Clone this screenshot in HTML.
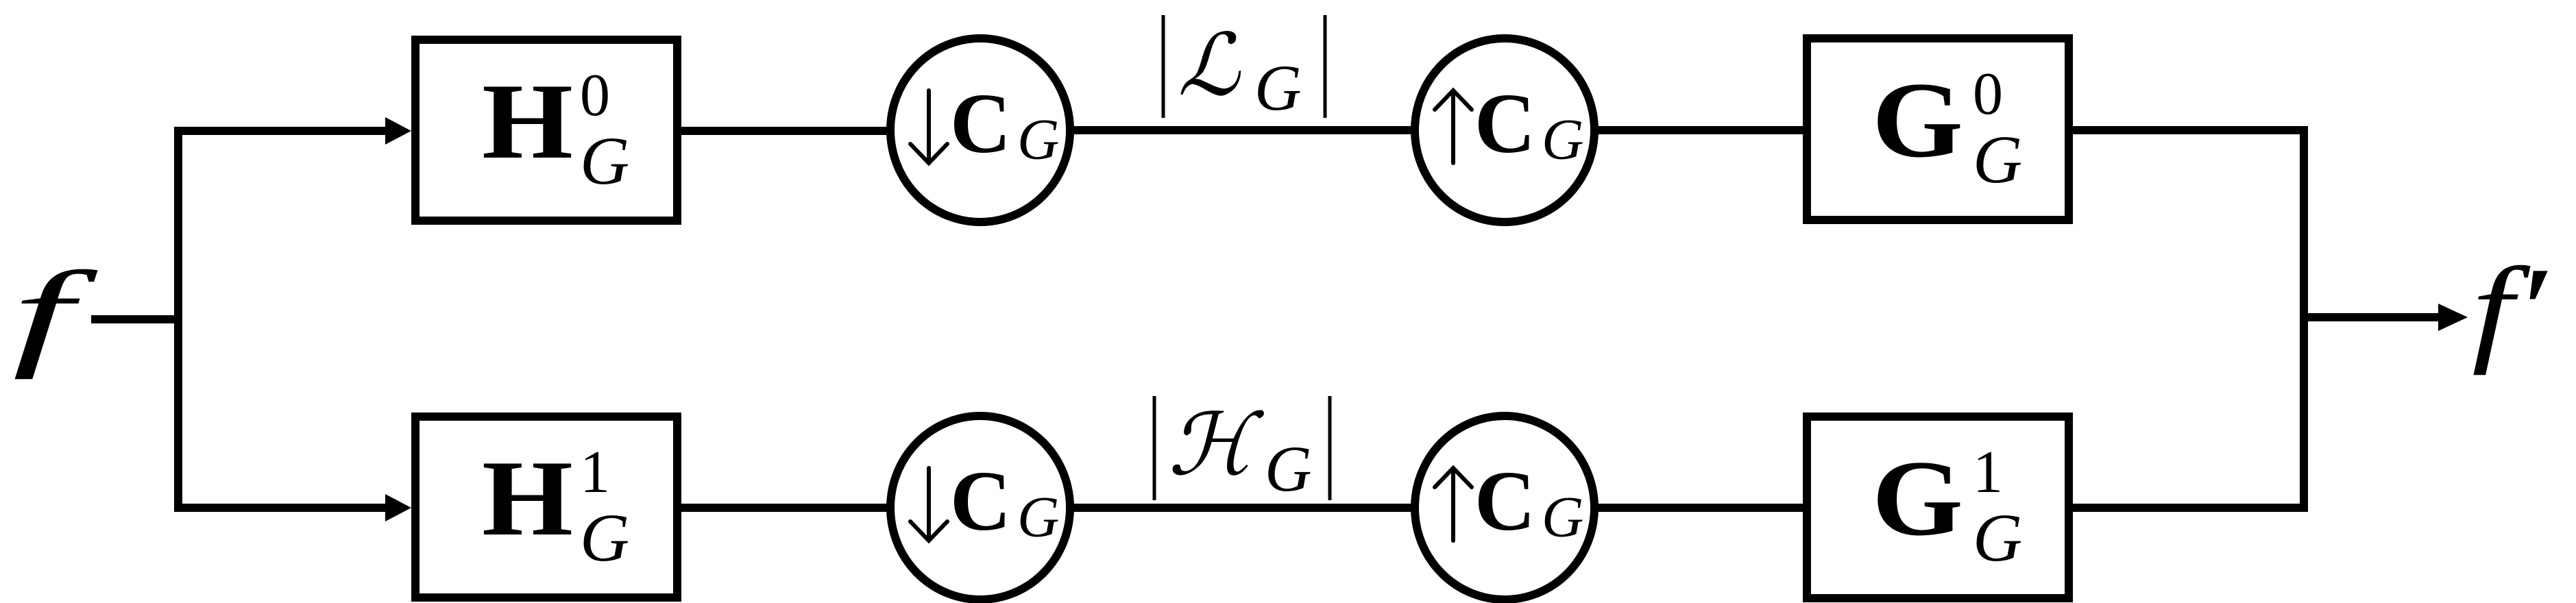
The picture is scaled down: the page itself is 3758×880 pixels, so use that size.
<!DOCTYPE html>
<html><head><meta charset="utf-8"><style>
html,body{margin:0;padding:0;background:#fff;}
svg{display:block;}
text{fill:#000;}
.s{font-family:"Liberation Serif","DejaVu Serif",serif;}
.b{font-weight:bold;}
.i{font-style:italic;}
</style></head><body>
<svg width="3758" height="880" viewBox="0 0 3758 880" xmlns="http://www.w3.org/2000/svg">
<defs>
  <g id="dn" stroke="#000" stroke-width="6" fill="none" stroke-linecap="round">
    <line x1="0" y1="0" x2="0" y2="104"/>
    <polyline points="-27,78 0,106 27,78"/>
  </g>
  <g id="up" stroke="#000" stroke-width="6" fill="none" stroke-linecap="round">
    <line x1="0" y1="0" x2="0" y2="106"/>
    <polyline points="-27,28 0,0 27,28"/>
  </g>
</defs>
<g stroke="#000" stroke-width="12" fill="none" stroke-linecap="butt">
  <line x1="133" y1="466" x2="266" y2="466"/>
  <line x1="260" y1="185" x2="260" y2="747"/>
  <line x1="254" y1="191" x2="570" y2="191"/>
  <line x1="254" y1="741" x2="570" y2="741"/>
  <rect x="606" y="58" width="382" height="264"/>
  <rect x="606" y="608" width="382" height="264"/>
  <rect x="2636" y="56" width="382" height="265"/>
  <rect x="2636" y="608" width="382" height="265"/>
  <ellipse cx="1430" cy="190" rx="131" ry="134"/>
  <ellipse cx="1430" cy="741" rx="131" ry="134"/>
  <ellipse cx="2195" cy="190" rx="131" ry="134"/>
  <ellipse cx="2195" cy="741" rx="131" ry="134"/>
  <line x1="994" y1="191" x2="1299" y2="191"/>
  <line x1="1561" y1="190" x2="2064" y2="190"/>
  <line x1="2326" y1="190" x2="2630" y2="190"/>
  <line x1="994" y1="741" x2="1299" y2="741"/>
  <line x1="1561" y1="741" x2="2064" y2="741"/>
  <line x1="2326" y1="741" x2="2630" y2="741"/>
  <line x1="3024" y1="190" x2="3367" y2="190"/>
  <line x1="3024" y1="741" x2="3367" y2="741"/>
  <line x1="3361" y1="184" x2="3361" y2="747"/>
  <line x1="3361" y1="463" x2="3565" y2="463"/>
  <line x1="1697" y1="22" x2="1697" y2="172" stroke-width="5"/>
  <line x1="1933" y1="22" x2="1933" y2="172" stroke-width="5"/>
  <line x1="1684" y1="578" x2="1684" y2="730" stroke-width="5"/>
  <line x1="1940" y1="578" x2="1940" y2="730" stroke-width="5"/>
</g>
<g fill="#000">
  <polygon points="562,171 600,191 562,211"/>
  <polygon points="562,721 600,741 562,761"/>
  <polygon points="3557,443 3600,463 3557,483"/>
</g>
<text class="s i" x="18" y="516" font-size="175" textLength="88" lengthAdjust="spacingAndGlyphs">f</text>
<text class="s i" x="3606" y="510" font-size="175" textLength="108" lengthAdjust="spacingAndGlyphs">f′</text>
<text class="s b" x="703" y="230" font-size="158" textLength="133" lengthAdjust="spacingAndGlyphs">H</text>
<text class="s" x="846" y="168" font-size="88">0</text>
<text class="s i" x="846" y="268" font-size="100">G</text>
<text class="s b" x="703" y="780" font-size="158" textLength="133" lengthAdjust="spacingAndGlyphs">H</text>
<text class="s" x="846" y="718" font-size="88">1</text>
<text class="s i" x="846" y="818" font-size="100">G</text>
<text class="s b" x="2731" y="228" font-size="158" textLength="133" lengthAdjust="spacingAndGlyphs">G</text>
<text class="s" x="2878" y="166" font-size="88">0</text>
<text class="s i" x="2878" y="266" font-size="100">G</text>
<text class="s b" x="2731" y="780" font-size="158" textLength="133" lengthAdjust="spacingAndGlyphs">G</text>
<text class="s" x="2878" y="718" font-size="88">1</text>
<text class="s i" x="2878" y="818" font-size="100">G</text>
<use href="#dn" x="1355" y="132"/>
<use href="#dn" x="1355" y="683"/>
<use href="#up" x="2120" y="132"/>
<use href="#up" x="2120" y="683"/>
<g class="s">
<text class="b" x="1386" y="222" font-size="125" textLength="89" lengthAdjust="spacingAndGlyphs">C</text>
<text class="i" x="1484" y="232" font-size="85">G</text>
<text class="b" x="1386" y="773" font-size="125" textLength="89" lengthAdjust="spacingAndGlyphs">C</text>
<text class="i" x="1484" y="783" font-size="85">G</text>
<text class="b" x="2151" y="222" font-size="125" textLength="89" lengthAdjust="spacingAndGlyphs">C</text>
<text class="i" x="2249" y="232" font-size="85">G</text>
<text class="b" x="2151" y="773" font-size="125" textLength="89" lengthAdjust="spacingAndGlyphs">C</text>
<text class="i" x="2249" y="783" font-size="85">G</text>
</g>
<text x="1718" y="138" font-size="125" font-family="DejaVu Serif, serif" font-style="italic">ℒ</text>
<text class="s i" x="1830" y="160" font-size="95">G</text>
<text x="1704" y="692" font-size="125" font-family="DejaVu Serif, serif" font-style="italic">ℋ</text>
<text class="s i" x="1845" y="716" font-size="95">G</text>
</svg>
</body></html>
